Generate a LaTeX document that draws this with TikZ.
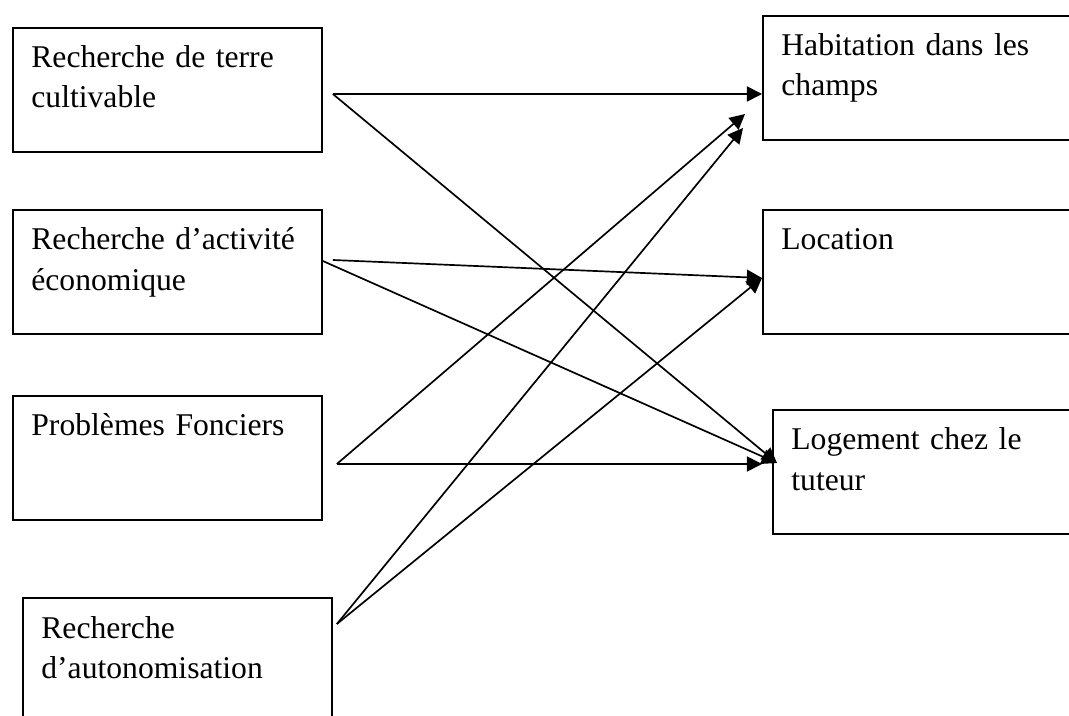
\documentclass[tikz,border=0pt]{standalone}
\usepackage{fontspec}
\setmainfont{Liberation Serif}
\usetikzlibrary{arrows.meta,calc}

\begin{document}
\begin{tikzpicture}[x=0.025cm,y=-0.025cm,
  boite/.style={draw,line width=1.4pt,anchor=north west,align=left,
    text width=6.8cm,inner xsep=0.46cm,inner ysep=0pt,text height=1cm,text depth=2.1cm,
    font=\fontsize{22.5}{28.45}\selectfont},
  fleche/.style={line width=1.2pt,-{Triangle[length=0.38cm,width=0.38cm]}}]
\useasboundingbox (0,0) rectangle (1069,715);
% causes
\node[boite] (terre) at (12,27) {Recherche de terre\\cultivable};
\node[boite] (activite) at (12,209) {Recherche d’activité\\économique};
\node[boite] (foncier) at (12,395) {Problèmes Fonciers};
\node[boite] (autonomie) at (22,597) {Recherche\\d’autonomisation};
% consequences
\node[boite] (champs) at (762,15) {Habitation dans les\\champs};
\node[boite] (location) at (762,209) {Location};
\node[boite] (tuteur) at (772,409) {Logement chez le\\tuteur};
% liens
\draw[fleche] ($(terre.east)+(10,4)$) -- ($(champs.west)+(0,16)$);
\draw[fleche] ($(terre.east)+(10,4)$) -- ($(tuteur.west)+(5,-9)$);
\draw[fleche] ($(activite.east)+(10,-12)$) -- ($(location.west)+(0,6)$);
\draw[fleche] ($(activite.east)+(0,-11)$) -- ($(tuteur.west)+(5,-9)$);
\draw[fleche] ($(foncier.east)+(14,6)$) -- ($(champs.west)+(-17,36)$);
\draw[fleche] ($(foncier.east)+(14,6)$) -- ($(tuteur.west)+(-10,-8)$);
\draw[fleche] ($(autonomie.east)+(4,-36)$) -- ($(champs.west)+(-19,50)$);
\draw[fleche] ($(autonomie.east)+(4,-36)$) -- ($(location.west)+(0,6)$);
\end{tikzpicture}
\end{document}
